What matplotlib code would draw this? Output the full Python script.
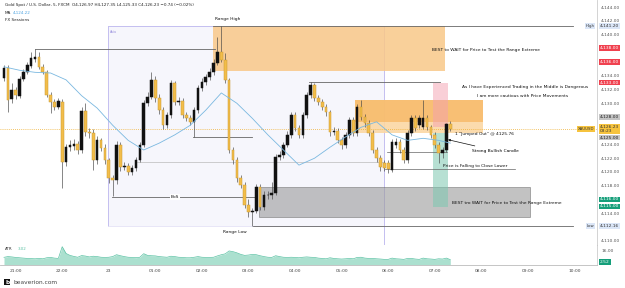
import matplotlib
matplotlib.use("Agg")
import matplotlib.pyplot as plt
import matplotlib.transforms as mtransforms
from matplotlib.patches import Rectangle

# XAUUSD 5 min candles (bar index 0 .. 115)
opens = [4133.7, 4135.1, 4130.6, 4131.9, 4131.1, 4133.5, 4134.5, 4135.4, 4136.4, 4136.7,
         4135.3, 4134.5, 4131.2, 4130.2, 4129.5, 4130.2, 4121.5, 4123.6, 4123.8, 4124.1,
         4123.2, 4128.9, 4125.8, 4125.7, 4121.7, 4124.6, 4123.5, 4121.7, 4119.1, 4118.8,
         4123.9, 4120.7, 4120.9, 4120.0, 4120.6, 4121.7, 4123.9, 4130.0, 4130.9, 4133.4,
         4130.8, 4129.0, 4126.8, 4128.3, 4132.9, 4130.2, 4130.3, 4128.3, 4127.9, 4127.3,
         4129.0, 4132.2, 4133.1, 4133.8, 4134.5, 4135.9, 4137.5, 4136.3, 4133.4, 4123.2,
         4121.7, 4119.1, 4118.1, 4115.2, 4114.2, 4114.3, 4117.8, 4114.9, 4116.6, 4116.6,
         4116.9, 4122.2, 4122.5, 4123.9, 4125.4, 4128.3, 4126.4, 4125.4, 4128.3, 4131.2,
         4132.7, 4130.8, 4130.2, 4129.5, 4128.7, 4125.8, 4126.0, 4124.7, 4123.9, 4125.4,
         4127.6, 4125.7, 4129.5, 4128.0, 4127.1, 4125.7, 4123.2, 4122.0, 4121.3, 4121.3,
         4120.3, 4123.9, 4124.4, 4123.2, 4121.7, 4125.7, 4127.9, 4126.8, 4126.6, 4127.9,
         4126.5, 4125.4, 4123.9, 4122.8, 4123.2, 4126.97]
highs = [4135.6, 4135.5, 4132.9, 4132.4, 4134.0, 4135.0, 4136.0, 4137.4, 4137.9, 4137.4,
         4135.7, 4134.8, 4131.6, 4130.6, 4130.8, 4130.6, 4124.0, 4124.6, 4124.8, 4124.5,
         4129.5, 4130.0, 4126.4, 4126.2, 4125.2, 4125.0, 4124.0, 4122.0, 4119.6, 4124.5,
         4124.3, 4121.5, 4121.3, 4121.0, 4122.2, 4124.4, 4130.5, 4131.6, 4134.5, 4134.0,
         4131.3, 4129.5, 4128.8, 4133.4, 4133.3, 4130.9, 4130.7, 4128.8, 4128.3, 4129.4,
         4132.6, 4133.7, 4134.3, 4135.1, 4136.4, 4139.6, 4141.2, 4137.3, 4133.7, 4123.6,
         4122.2, 4119.5, 4118.5, 4116.0, 4114.8, 4118.3, 4118.2, 4117.2, 4117.3, 4118.5,
         4122.6, 4123.0, 4124.3, 4125.9, 4128.8, 4128.7, 4126.8, 4128.8, 4131.6, 4133.1,
         4133.0, 4131.2, 4130.6, 4129.9, 4129.0, 4126.5, 4126.4, 4125.1, 4125.8, 4128.0,
         4128.0, 4129.9, 4130.5, 4128.4, 4127.5, 4126.1, 4123.6, 4122.4, 4121.8, 4121.7,
         4124.8, 4124.9, 4124.8, 4123.6, 4126.1, 4128.3, 4128.3, 4128.3, 4130.5, 4128.3,
         4126.9, 4125.8, 4124.3, 4123.6, 4127.2, 4127.35]
lows = [4133.3, 4128.7, 4130.0, 4130.6, 4130.7, 4133.2, 4134.2, 4135.1, 4136.0, 4135.0,
        4134.2, 4130.9, 4128.6, 4129.0, 4129.1, 4117.7, 4120.8, 4123.0, 4123.2, 4122.6,
        4122.8, 4125.3, 4125.0, 4120.3, 4121.2, 4123.0, 4121.2, 4118.4, 4116.5, 4118.3,
        4120.2, 4120.3, 4119.5, 4119.6, 4120.2, 4121.4, 4123.6, 4129.6, 4130.6, 4130.2,
        4128.5, 4126.3, 4126.4, 4127.9, 4129.7, 4129.8, 4127.8, 4127.4, 4126.8, 4125.1,
        4128.6, 4131.8, 4132.7, 4133.4, 4134.1, 4135.5, 4136.0, 4133.0, 4122.8, 4121.2,
        4118.6, 4117.6, 4114.8, 4113.5, 4112.2, 4114.0, 4114.4, 4114.5, 4116.0, 4116.0,
        4116.6, 4121.7, 4122.0, 4123.6, 4125.0, 4125.9, 4124.9, 4125.0, 4127.9, 4130.8,
        4130.3, 4129.7, 4129.0, 4128.2, 4125.3, 4125.4, 4124.2, 4123.4, 4123.5, 4125.0,
        4125.2, 4125.3, 4127.6, 4126.6, 4125.2, 4122.7, 4121.5, 4120.2, 4120.1, 4119.9,
        4120.0, 4123.5, 4122.8, 4121.3, 4121.3, 4125.3, 4126.0, 4126.4, 4126.2, 4126.1,
        4125.0, 4123.5, 4121.3, 4122.0, 4122.9, 4125.9]
closes = [4135.1, 4130.5, 4131.9, 4131.2, 4133.5, 4134.5, 4135.6, 4136.6, 4136.7, 4135.3,
          4134.5, 4131.2, 4130.2, 4129.5, 4130.3, 4121.5, 4123.6, 4123.9, 4124.1, 4123.2,
          4128.9, 4125.8, 4125.7, 4121.7, 4124.6, 4123.5, 4121.7, 4119.1, 4118.8, 4123.9,
          4120.7, 4120.9, 4120.0, 4120.6, 4121.7, 4123.9, 4130.0, 4130.9, 4133.4, 4130.8,
          4129.0, 4126.8, 4128.3, 4132.9, 4130.2, 4130.3, 4128.3, 4127.9, 4127.3, 4129.0,
          4132.2, 4133.1, 4133.8, 4134.5, 4135.9, 4137.5, 4136.3, 4133.4, 4123.2, 4121.7,
          4119.1, 4118.1, 4115.2, 4114.2, 4114.3, 4117.8, 4114.9, 4116.6, 4116.7, 4116.9,
          4122.2, 4122.5, 4123.9, 4125.4, 4128.3, 4126.4, 4125.4, 4128.3, 4131.2, 4132.7,
          4130.8, 4130.2, 4129.5, 4128.7, 4125.8, 4126.0, 4124.7, 4123.9, 4125.4, 4127.6,
          4125.7, 4129.5, 4128.0, 4127.1, 4125.7, 4123.2, 4122.0, 4120.7, 4120.6, 4120.4,
          4124.4, 4124.4, 4123.2, 4121.7, 4125.7, 4127.9, 4126.4, 4127.9, 4127.9, 4126.5,
          4125.4, 4123.9, 4122.8, 4123.2, 4126.97, 4126.23]

# moving average, read every 4 bars
ma_idx = [0, 4, 8, 12, 16, 20, 24, 28, 32, 36, 40, 44, 48, 52, 56, 60, 64, 68, 72, 76,
          80, 84, 88, 92, 96, 100, 104, 108, 112, 115]
ma_val = [4135.3, 4134.8, 4134.5, 4134.4, 4133.4, 4131.1, 4129.3, 4126.8, 4124.6, 4123.2,
          4124.2, 4125.4, 4126.8, 4129.0, 4131.5, 4130.0, 4127.8, 4125.4, 4123.2, 4121.0,
          4122.0, 4123.6, 4125.1, 4126.5, 4127.3, 4125.4, 4124.6, 4124.9, 4124.6, 4124.2]

atr = [8.5, 9.4, 9.0, 8.4, 8.0, 7.6, 7.2, 7.0, 6.8, 7.2, 6.8, 8.0, 8.4, 7.6, 7.2,
       21.0, 13.0, 10.8, 9.6, 8.6, 10.6, 10.0, 9.0, 9.8, 9.4, 8.6, 8.4, 8.6, 9.4,
       11.6, 10.4, 9.4, 8.6, 8.4, 8.1, 8.6, 12.8, 10.8, 10.4, 10.2, 9.4,
       9.0, 8.6, 9.8, 9.4, 8.6, 8.4, 8.0, 8.0, 8.6, 9.4,
       8.6, 8.4, 8.4, 8.6, 10.2, 11.6, 12.6, 16.0, 15.2, 13.8, 12.0, 10.8,
       11.2, 12.0, 11.6, 10.4, 9.4, 8.6, 8.4, 10.4,
       9.4, 8.6, 8.4, 8.6, 8.4, 8.0, 8.6, 9.0, 8.6, 8.4,
       7.6, 7.2, 6.8, 8.0, 7.2, 6.8, 6.5, 6.8, 7.2, 6.8,
       8.4, 8.6, 7.6, 7.2, 7.2, 6.8, 6.5, 6.1, 6.1, 7.6,
       6.8, 6.5, 6.1, 7.2, 7.2, 6.5, 6.1, 7.6, 6.8, 6.5, 6.1, 6.8, 6.5, 7.6, 5.8]

time_idx = [3, 15, 27, 39, 51, 63, 75, 87, 99, 111, 123, 135, 147]
time_lbl = ["21:00", "22:00", "23", "01:00", "02:00", "03:00", "04:00", "05:00",
            "06:00", "07:00", "08:00", "09:00", "10:00"]
price_ticks = [4110, 4112, 4114, 4116, 4118, 4120, 4122, 4124, 4126, 4128, 4130,
               4132, 4134, 4136, 4138, 4140, 4142, 4144]
covered = [4112, 4116, 4126, 4128, 4136, 4138]   # hidden behind the price badges

range_high = 4141.20
range_low = 4112.16
last = 4126.23

BULL = "#111111"
BEAR = "#f2bd4a"
FS = 3.2

fig = plt.figure(figsize=(6.25, 2.88), dpi=100)
ax = fig.add_axes([0, 1 - 245 / 288, 597 / 625, 245 / 288])
ax2 = fig.add_axes([0, 1 - 265 / 288, 597 / 625, 20 / 288], sharex=ax)

# candles
for i in range(len(opens)):
    o, h, l, c = opens[i], highs[i], lows[i], closes[i]
    up = c >= o
    ax.vlines(i, l, h, color="#444444", lw=0.45, zorder=3)
    ax.bar(i, abs(c - o) if abs(c - o) > 0.08 else 0.08, bottom=min(o, c), width=0.68,
           color=BULL if up else BEAR, edgecolor="#111111" if up else "#c99a35",
           lw=0.35, zorder=4)

ax.plot(ma_idx, ma_val, color="#7ab8e0", lw=0.6, zorder=5)

# session box
ax.add_patch(Rectangle((26.8, range_low), 71.1, range_high - range_low, fc="#c8c4f0",
                       ec="none", alpha=0.15, zorder=0))
ax.plot([26.8, 26.8], [range_low, range_high], color="#c4bff0", lw=0.7, zorder=1)
ax.plot([97.9, 97.9], [4109.5, range_high], color="#c4bff0", lw=0.7, zorder=1)
ax.plot([26.8, 97.9], [range_high, range_high], color="#c4bff0", lw=0.7, zorder=1)
ax.plot([26.8, 97.9], [range_low, range_low], color="#e4e2f6", lw=0.6, zorder=1)
ax.text(27.4, 4140.6, "Asia", fontsize=2.4, color="#9990dd", va="top")

# zones
ax.add_patch(Rectangle((53.9, 4134.7), 59.8, range_high - 4134.7, fc="#f9c888",
                       ec="none", alpha=0.85, zorder=1))
ax.add_patch(Rectangle((90.5, 4125.7), 33.0, 4.8, fc="#fbd7a4", ec="none",
                       alpha=0.9, zorder=1))
ax.add_patch(Rectangle((90.5, 4127.3), 33.0, 3.2, fc="#f7b45c", ec="none",
                       alpha=0.7, zorder=1))
ax.add_patch(Rectangle((110.6, 4126.6), 3.8, 6.3, fc="#f4a0b0", ec="none",
                       alpha=0.5, zorder=2))
ax.add_patch(Rectangle((110.6, 4114.9), 3.8, 10.8, fc="#7cc8b0", ec="none",
                       alpha=0.55, zorder=2))
ax.add_patch(Rectangle((65.7, 4113.4), 69.9, 4.4, fc="#9a9a9a", ec="#555555",
                       lw=0.5, alpha=0.6, zorder=1))

# levels
lc = "#666666"
ax.plot([53.9, 146.6], [range_high, range_high], color=lc, lw=0.6, zorder=2)
ax.plot([64.2, 146.6], [range_low, range_low], color=lc, lw=0.6, zorder=2)
ax.plot([8, 54.4], [4137.9, 4137.9], color=lc, lw=0.6, zorder=2)
ax.plot([78.6, 112.4], [4133.1, 4133.1], color=lc, lw=0.6, zorder=2)
ax.plot([48.7, 64.0], [4125.1, 4125.1], color=lc, lw=0.6, zorder=2)
ax.plot([27.8, 64.7], [4116.4, 4116.4], color=lc, lw=0.6, zorder=2)
ax.plot([34.3, 98.0], [4121.5, 4121.5], color="#bbbbbb", lw=0.5, zorder=1)
ax.plot([98.2, 131.7], [4120.4, 4120.4], color=lc, lw=0.5, zorder=2)
ax.plot([98.7, 114.2], [4122.9, 4122.9], color=lc, lw=0.5, zorder=2)
ax.axhline(last, color="#f0b030", lw=0.6, ls=(0, (1, 1.5)), zorder=2)

# notes
kw = dict(fontsize=FS, color="#111111", zorder=6)
ax.text(57.7, 4142.0, "Range High", ha="center", va="bottom", **kw)
ax.text(59.5, 4111.6, "Range Low", ha="center", va="top", **kw)
ax.text(44, 4116.4, "BoS", ha="center", va="center",
        bbox=dict(fc="white", ec="none", pad=0.6), **kw)
ax.text(124.1, 4137.7, "BEST to WAIT for Price to Test the Range Extreme",
        ha="center", va="center", **kw)
ax.text(134.3, 4132.4, "As I have Experienced Trading in the Middle is Dangerous",
        ha="center", va="center", **kw)
ax.text(133.5, 4131.1, "I am more cautious with Price Movements",
        ha="center", va="center", **kw)
ax.text(116.2, 4125.5, '1 "Jumped Out" @ 4125.76', ha="left", va="center", **kw)
ax.annotate("Strong Bullish Candle", xy=(114.4, 4124.7), xytext=(120.6, 4123.1),
            ha="left", va="center", fontsize=FS, zorder=6,
            arrowprops=dict(arrowstyle="-|>", color="#111111", lw=0.5,
                            mutation_scale=3, shrinkA=0, shrinkB=0))
ax.text(113.2, 4120.9, "Price is Falling to Close Lower", ha="left", va="center", **kw)
ax.text(115.5, 4115.5, "BEST tro WAIT for Price to Test the Range Extreme",
        ha="left", va="center", **kw)

ax.set_xlim(-1.03, 152.8)
ax.set_ylim(4109.38, 4145.02)
ax.yaxis.tick_right()
ax.set_yticks(price_ticks)
ax.set_yticklabels(["" if p in covered else f"{p:,.2f}" for p in price_ticks],
                   fontsize=FS, color="#555555")
ax.tick_params(axis="y", length=0, pad=3)
ax.tick_params(axis="x", length=0, labelbottom=False)
for s in ["top", "left"]:
    ax.spines[s].set_visible(False)
ax.spines["right"].set_color("#cccccc")
ax.spines["bottom"].set_color("#bbbbbb")
ax.spines["right"].set_linewidth(0.6)
ax.spines["bottom"].set_linewidth(0.6)

# axis badges
tr = mtransforms.blended_transform_factory(ax.transAxes, ax.transData)
def badge(y, txt, fc, tc="white"):
    ax.text(1.005, y, txt, transform=tr, fontsize=FS, color=tc, va="center", ha="left",
            bbox=dict(fc=fc, ec="none", pad=0.6), zorder=10, clip_on=False)
badge(range_high, "4,141.20", "#dbe6f7", "#333333")
badge(4138.0, "4,138.00", "#f0414f")
badge(4136.0, "4,136.00", "#f0414f")
badge(4133.0, "4,133.00", "#f0414f")
badge(4128.0, "4,128.00", "#c4c4c4", "#222222")
badge(4125.0, "4,125.00", "#c4c4c4", "#222222")
badge(last, "4,126.23\n03:23", "#f6c33e", "#333333")
badge(4116.0, "4,116.00", "#159f7a")
badge(4115.0, "4,115.00", "#159f7a")
badge(range_low, "4,112.16", "#dbe6f7", "#333333")
ax.text(0.996, range_high, "High", transform=tr, fontsize=FS - 0.4, color="#333333",
        ha="right", va="center", bbox=dict(fc="#dbe6f7", ec="none", pad=0.6))
ax.text(0.996, range_low, "Low", transform=tr, fontsize=FS - 0.4, color="#333333",
        ha="right", va="center", bbox=dict(fc="#dbe6f7", ec="none", pad=0.6))
ax.text(0.996, last, "XAUUSD", transform=tr, fontsize=FS - 0.4, color="#333333",
        ha="right", va="center", bbox=dict(fc="#f6c33e", ec="none", pad=0.6))

# ATR pane
xs = list(range(len(atr)))
ax2.fill_between(xs, 0, atr, color="#8fd6c0", alpha=0.75, lw=0)
ax2.plot(xs, atr, color="#5cc2a4", lw=0.5)
ax2.set_ylim(-0.5, 23)
ax2.yaxis.tick_right()
ax2.set_yticks([16])
ax2.set_yticklabels(["16.00"], fontsize=FS, color="#555555")
ax2.tick_params(axis="y", length=0, pad=3)
ax2.set_xticks(time_idx)
ax2.set_xticklabels(time_lbl, fontsize=FS, color="#444444")
ax2.tick_params(axis="x", length=0, pad=3)
for s in ["top", "left"]:
    ax2.spines[s].set_visible(False)
ax2.spines["right"].set_color("#cccccc")
ax2.spines["bottom"].set_color("#bbbbbb")
ax2.spines["right"].set_linewidth(0.6)
ax2.spines["bottom"].set_linewidth(0.6)
ax2.text(1.005, 3.0, "2.52", transform=mtransforms.blended_transform_factory(
    ax2.transAxes, ax2.transData), fontsize=FS, color="white", va="center",
    bbox=dict(fc="#159f7a", ec="none", pad=0.6), clip_on=False)
ax2.text(0.008, 0.8, "ATR", transform=ax2.transAxes, fontsize=FS - 0.3,
         color="#333333", va="center")
ax2.text(0.03, 0.8, "3.02", transform=ax2.transAxes, fontsize=FS - 0.3,
         color="#5cc2a4", va="center")

# header / footer
fig.text(5 / 625, 1 - 5 / 288, "Gold Spot / U.S. Dollar, 5, FXCM  O4,126.97 H4,127.35 "
         "L4,125.33 C4,126.23 \u22120.74 (\u22120.02%)", fontsize=3.0, color="#222222",
         va="center")
fig.text(5 / 625, 1 - 13 / 288, "MA", fontsize=3.0, color="#222222", va="center")
fig.text(13 / 625, 1 - 13 / 288, "4,124.22", fontsize=3.0, color="#4da3e0", va="center")
fig.text(5 / 625, 1 - 20 / 288, "FX Sessions", fontsize=3.0, color="#222222", va="center")
fig.text(5 / 625, 1 - 282 / 288, "b", fontsize=4.2, color="white", weight="bold",
         va="center", bbox=dict(fc="#111111", ec="none", pad=0.5))
fig.text(13 / 625, 1 - 282 / 288, "beaverion.com", fontsize=4.2, color="#444444",
         va="center")

fig.savefig("out.png", dpi=100)
